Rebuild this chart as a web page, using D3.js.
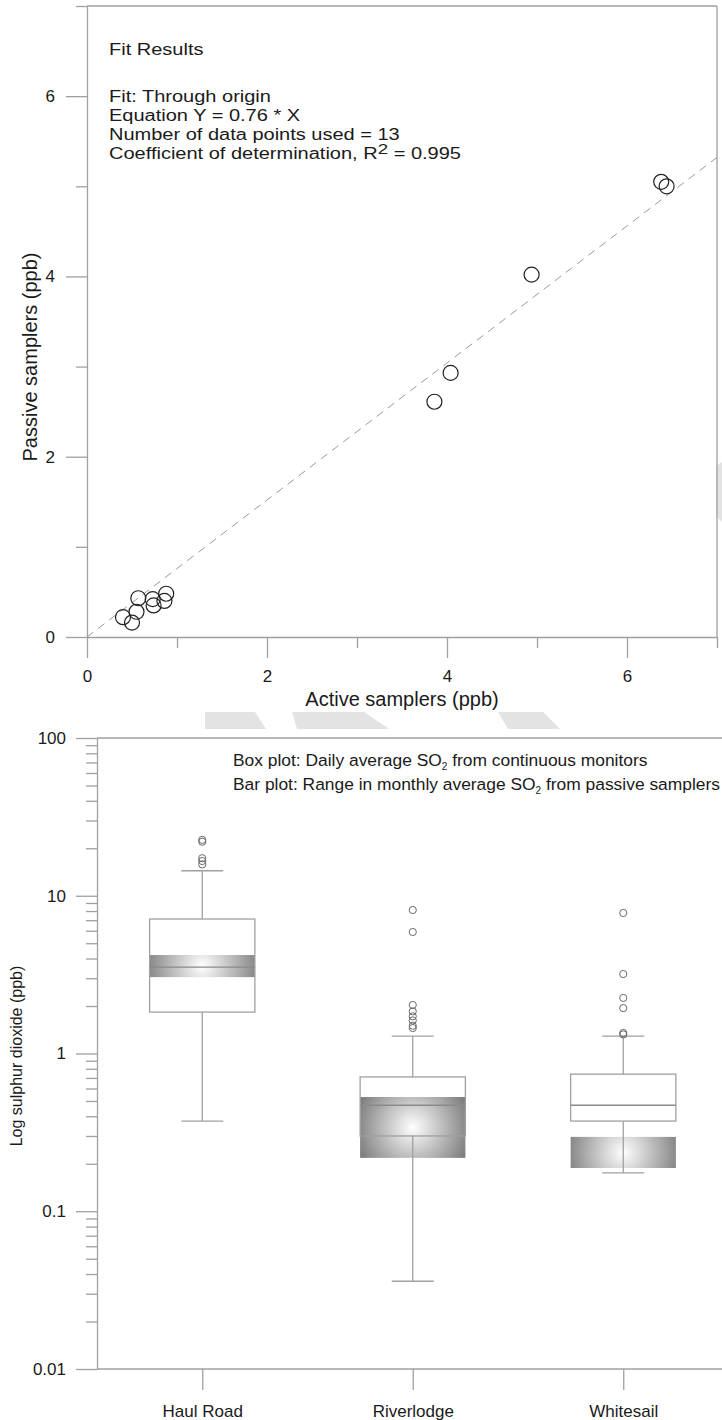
<!DOCTYPE html>
<html>
<head>
<meta charset="utf-8">
<script src="https://cdn.jsdelivr.net/npm/d3@7"></script>
<style>
  body { margin: 0; background: #fff; }
  svg { display: block; font-family: Arial, "Liberation Sans", sans-serif; }
  .axis .domain, .axis line { stroke: #a0a0a0; stroke-width: 1.3; }
  .axis text { fill: #1a1a1a; font-family: Arial, "Liberation Sans", sans-serif; }
</style>
</head>
<body>
<svg id="chart" width="722" height="1420"></svg>
<script>
// ---- top panel: passive vs active samplers ----
const activeX  = [6.38, 6.44, 4.94, 4.04, 3.86, 0.40, 0.50, 0.55, 0.57, 0.73, 0.74, 0.86, 0.88];
const passiveY = [5.05, 5.00, 4.02, 2.93, 2.61, 0.22, 0.16, 0.28, 0.43, 0.42, 0.35, 0.40, 0.48];
const fitSlope = 0.76;
const scatterMajorTicks = [0, 2, 4, 6];
const scatterMinorTicks = [1, 3, 5, 7];
const fitLines = ["Fit: Through origin", "Equation Y = 0.76 * X", "Number of data points used = 13"];

// ---- bottom panel: daily SO2 box plots + passive sampler range ----
const sites     = ["Haul Road", "Riverlodge", "Whitesail"];
const whiskerLo = [0.373, 0.036, 0.175];
const q1        = [1.83, 0.30, 0.373];
const median    = [3.53, 0.47, 0.47];
const q3        = [7.12, 0.71, 0.74];
const whiskerHi = [14.4, 1.29, 1.29];
const outliers  = [
  [22.6, 22.0, 17.3, 16.6, 15.8],
  [8.12, 5.89, 2.03, 1.85, 1.72, 1.62, 1.50, 1.45],
  [7.78, 3.19, 2.25, 1.94, 1.35, 1.32]
];
const passiveLo = [3.05, 0.218, 0.188];
const passiveHi = [4.21, 0.53, 0.296];
const logMajorTicks = [0.01, 0.1, 1, 10, 100];

const svg = d3.select("#chart");
const defs = svg.append("defs");

// widen glyphs a bit (the source text is set wide)
function stretch(sel, k) {
  sel.each(function() {
    const w = this.getComputedTextLength();
    d3.select(this).attr("textLength", w * k).attr("lengthAdjust", "spacingAndGlyphs");
  });
}

// faint watermark shapes in the background
const watermark = [
  [[205, 712], [255, 712], [266, 729], [205, 729]],
  [[292, 712], [364, 712], [389, 729], [297, 729]],
  [[498, 712], [543, 712], [560, 729], [508, 729]],
  [[716, 466], [722, 462], [722, 522], [716, 516]]
];
svg.append("g").selectAll("polygon")
  .data(watermark)
  .join("polygon")
  .attr("points", d => d.map(p => p.join(",")).join(" "))
  .attr("fill", "#e3e3e3");

/* ================= top scatter ================= */
const x1 = d3.scaleLinear().domain([0, 7]).range([87, 717]);
const y1 = d3.scaleLinear().domain([0, 7]).range([637, 6]);
const topPanel = svg.append("g");

// frame
topPanel.append("line").attr("x1", x1(0)).attr("x2", x1(7)).attr("y1", y1(7)).attr("y2", y1(7))
  .attr("stroke", "#a0a0a0").attr("stroke-width", 1.3);
topPanel.append("line").attr("x1", x1(7)).attr("x2", x1(7)).attr("y1", y1(7)).attr("y2", y1(0))
  .attr("stroke", "#a0a0a0").attr("stroke-width", 1.3);

const fmt = d3.format("d");
topPanel.append("g").attr("class", "axis").attr("transform", `translate(0,${y1(0)})`)
  .call(d3.axisBottom(x1).tickValues(scatterMajorTicks).tickSize(21).tickSizeOuter(0).tickPadding(12).tickFormat(fmt))
  .call(g => g.selectAll("text").attr("font-size", 17));
topPanel.append("g").attr("class", "axis").attr("transform", `translate(0,${y1(0)})`)
  .call(d3.axisBottom(x1).tickValues(scatterMinorTicks).tickSize(11).tickSizeOuter(0).tickFormat(""))
  .call(g => g.select(".domain").remove());
topPanel.append("g").attr("class", "axis").attr("transform", `translate(${x1(0)},0)`)
  .call(d3.axisLeft(y1).tickValues(scatterMajorTicks).tickSize(21).tickSizeOuter(0).tickPadding(11).tickFormat(fmt))
  .call(g => g.selectAll("text").attr("font-size", 17));
topPanel.append("g").attr("class", "axis").attr("transform", `translate(${x1(0)},0)`)
  .call(d3.axisLeft(y1).tickValues(scatterMinorTicks).tickSize(11).tickSizeOuter(0).tickFormat(""))
  .call(g => g.select(".domain").remove());

// fit line through origin
topPanel.append("line")
  .attr("x1", x1(0)).attr("y1", y1(0))
  .attr("x2", x1(7)).attr("y2", y1(7 * fitSlope))
  .attr("stroke", "#9a9a9a").attr("stroke-width", 1)
  .attr("stroke-dasharray", "8,6");

// points
topPanel.append("g").selectAll("circle")
  .data(activeX.map((v, i) => [v, passiveY[i]]))
  .join("circle")
  .attr("cx", d => x1(d[0]))
  .attr("cy", d => y1(d[1]))
  .attr("r", 7.5)
  .attr("fill", "none")
  .attr("stroke", "#222")
  .attr("stroke-width", 1.2);

// fit results text
const fitText = topPanel.append("g").attr("font-size", 16).attr("fill", "#1a1a1a");
fitText.append("text").attr("x", 109).attr("y", 55).text("Fit Results");
fitText.selectAll("text.line")
  .data(fitLines)
  .join("text")
  .attr("class", "line")
  .attr("x", 109)
  .attr("y", (d, i) => 102 + i * 19)
  .text(d => d);
const r2 = fitText.append("text").attr("x", 109).attr("y", 159);
r2.append("tspan").text("Coefficient of determination, R");
r2.append("tspan").attr("dy", -5).attr("font-size", 15).text("2");
r2.append("tspan").attr("dy", 5).text(" = 0.995");
stretch(fitText.selectAll("text"), 1.25);

topPanel.append("text").attr("x", (x1(0) + x1(7)) / 2).attr("y", 706)
  .attr("text-anchor", "middle").attr("font-size", 20).attr("fill", "#1a1a1a")
  .text("Active samplers (ppb)");
topPanel.append("text").attr("transform", "translate(37,357) rotate(-90)")
  .attr("text-anchor", "middle").attr("font-size", 20).attr("fill", "#1a1a1a")
  .text("Passive samplers (ppb)");

/* ================= bottom box plot ================= */
const x2 = d3.scaleLinear().domain([0.5, 3.5]).range([97, 728.5]);
const y2 = d3.scaleLog().domain([0.01, 100]).range([1369, 738]);
const botPanel = svg.append("g");
const boxHalf = (x2(1.5) - x2(1)) / 2;
const capHalf = 21;
const boxStroke = "#a0a0a0";

// frame top
botPanel.append("line").attr("x1", x2(0.5)).attr("x2", 722).attr("y1", y2(100)).attr("y2", y2(100))
  .attr("stroke", "#a0a0a0").attr("stroke-width", 1.3);

// per-site radial gradients for passive bars
sites.forEach((s, i) => {
  const cx = x2(i + 1);
  const cy = (y2(passiveLo[i]) + y2(passiveHi[i])) / 2;
  const gr = defs.append("radialGradient")
    .attr("id", "barGrad" + i)
    .attr("gradientUnits", "userSpaceOnUse")
    .attr("cx", cx).attr("cy", cy).attr("r", boxHalf * 1.12);
  gr.append("stop").attr("offset", "0%").attr("stop-color", "#ffffff");
  gr.append("stop").attr("offset", "100%").attr("stop-color", "#7c7c7c");
});

const idx = sites.map((s, i) => i);

// box fills
botPanel.append("g").selectAll("rect")
  .data(idx).join("rect")
  .attr("x", i => x2(i + 1) - boxHalf)
  .attr("width", boxHalf * 2)
  .attr("y", i => y2(q3[i]))
  .attr("height", i => y2(q1[i]) - y2(q3[i]))
  .attr("fill", "#fff");

// passive sampler range bars
botPanel.append("g").selectAll("rect")
  .data(idx).join("rect")
  .attr("x", i => x2(i + 1) - boxHalf)
  .attr("width", boxHalf * 2)
  .attr("y", i => y2(passiveHi[i]))
  .attr("height", i => y2(passiveLo[i]) - y2(passiveHi[i]))
  .attr("fill", i => `url(#barGrad${i})`);

// whiskers
const wg = botPanel.append("g").attr("stroke", boxStroke).attr("stroke-width", 1.3);
wg.selectAll("line.up").data(idx).join("line").attr("class", "up")
  .attr("x1", i => x2(i + 1)).attr("x2", i => x2(i + 1))
  .attr("y1", i => y2(whiskerHi[i])).attr("y2", i => y2(q3[i]));
wg.selectAll("line.dn").data(idx).join("line").attr("class", "dn")
  .attr("x1", i => x2(i + 1)).attr("x2", i => x2(i + 1))
  .attr("y1", i => y2(q1[i])).attr("y2", i => y2(whiskerLo[i]));
wg.selectAll("line.capHi").data(idx).join("line").attr("class", "capHi")
  .attr("x1", i => x2(i + 1) - capHalf).attr("x2", i => x2(i + 1) + capHalf)
  .attr("y1", i => y2(whiskerHi[i])).attr("y2", i => y2(whiskerHi[i]));
wg.selectAll("line.capLo").data(idx).join("line").attr("class", "capLo")
  .attr("x1", i => x2(i + 1) - capHalf).attr("x2", i => x2(i + 1) + capHalf)
  .attr("y1", i => y2(whiskerLo[i])).attr("y2", i => y2(whiskerLo[i]));

// box outlines and medians
botPanel.append("g").selectAll("rect")
  .data(idx).join("rect")
  .attr("x", i => x2(i + 1) - boxHalf)
  .attr("width", boxHalf * 2)
  .attr("y", i => y2(q3[i]))
  .attr("height", i => y2(q1[i]) - y2(q3[i]))
  .attr("fill", "none")
  .attr("stroke", boxStroke).attr("stroke-width", 1.3);
botPanel.append("g").selectAll("line")
  .data(idx).join("line")
  .attr("x1", i => x2(i + 1) - boxHalf).attr("x2", i => x2(i + 1) + boxHalf)
  .attr("y1", i => y2(median[i])).attr("y2", i => y2(median[i]))
  .attr("stroke", "#8a8a8a").attr("stroke-width", 1.3);

// outliers
botPanel.append("g").selectAll("circle")
  .data(outliers.flatMap((arr, i) => arr.map(v => [i, v])))
  .join("circle")
  .attr("cx", d => x2(d[0] + 1))
  .attr("cy", d => y2(d[1]))
  .attr("r", 3.6)
  .attr("fill", "none")
  .attr("stroke", "#6a6a6a")
  .attr("stroke-width", 1);

// axes
const logMinor = [];
[0.01, 0.1, 1, 10].forEach(b => { for (let k = 2; k <= 9; k++) logMinor.push(b * k); });
botPanel.append("g").attr("class", "axis").attr("transform", `translate(${x2(0.5)},0)`)
  .call(d3.axisLeft(y2).tickValues(logMajorTicks).tickSize(21).tickSizeOuter(0).tickPadding(10)
    .tickFormat(d => String(d)))
  .call(g => g.selectAll("text").attr("font-size", 17));
botPanel.append("g").attr("class", "axis").attr("transform", `translate(${x2(0.5)},0)`)
  .call(d3.axisLeft(y2).tickValues(logMinor).tickSize(11).tickSizeOuter(0).tickFormat(""))
  .call(g => g.select(".domain").remove());
botPanel.append("g").attr("class", "axis").attr("transform", `translate(0,${y2(0.01)})`)
  .call(d3.axisBottom(x2).tickValues([1, 2, 3]).tickSize(21).tickSizeOuter(0).tickPadding(15)
    .tickFormat(d => sites[d - 1]))
  .call(g => g.select(".domain").attr("d", `M${x2(0.5)},0H722`))
  .call(g => g.selectAll("text").attr("font-size", 17));

// legend text
const leg = botPanel.append("g").attr("font-size", 17.4).attr("fill", "#1a1a1a");
const l1 = leg.append("text").attr("x", 233).attr("y", 766);
l1.append("tspan").text("Box plot: Daily average SO");
l1.append("tspan").attr("dy", 4).attr("font-size", 10).text("2");
l1.append("tspan").attr("dy", -4).text(" from continuous monitors");
const l2 = leg.append("text").attr("x", 233).attr("y", 790);
l2.append("tspan").text("Bar plot: Range in monthly average SO");
l2.append("tspan").attr("dy", 4).attr("font-size", 10).text("2");
l2.append("tspan").attr("dy", -4).text(" from passive samplers");

botPanel.append("text").attr("transform", "translate(22,1056) rotate(-90)")
  .attr("text-anchor", "middle").attr("font-size", 16).attr("fill", "#1a1a1a")
  .text("Log sulphur dioxide (ppb)");
</script>
</body>
</html>
